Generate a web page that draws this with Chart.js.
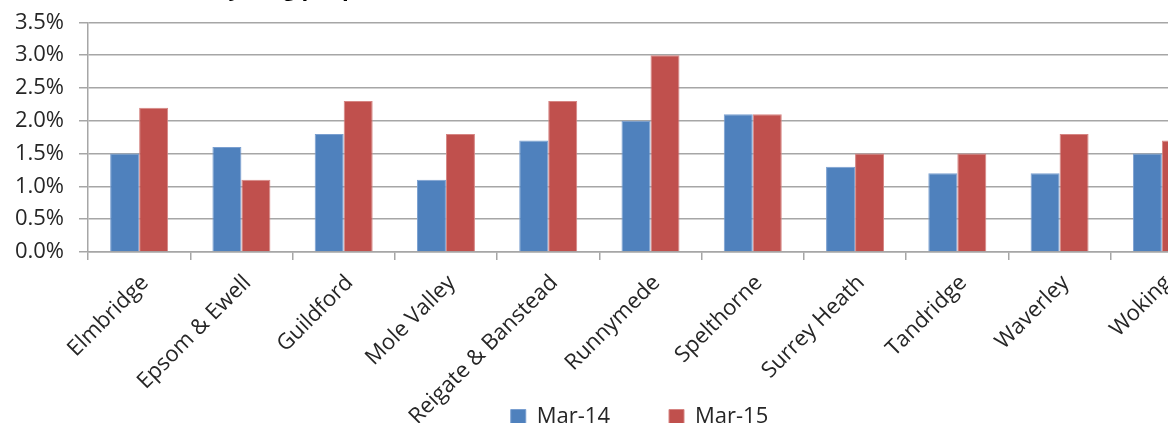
<!DOCTYPE html>
<html>
<head>
<meta charset="utf-8">
<script src="https://cdn.jsdelivr.net/npm/chart.js@4.4.0/dist/chart.umd.min.js"></script>
<style>
    html, body { margin: 0; padding: 0; overflow: hidden; background: #fff; width: 1168px; height: 423px; }
    #wrap { position: absolute; left: 0; top: -23px; width: 1274px; height: 546px; }
</style>
</head>
<body>
<div id="wrap"><canvas id="myChart"></canvas></div>
<script>
// du lieu
const districts = ['Elmbridge', 'Epsom & Ewell', 'Guildford', 'Mole Valley', 'Reigate & Banstead',
    'Runnymede', 'Spelthorne', 'Surrey Heath', 'Tandridge', 'Waverley', 'Woking']
const mar14 = [1.5, 1.6, 1.8, 1.1, 1.7, 2.0, 2.1, 1.3, 1.2, 1.2, 1.5]
const mar15 = [2.2, 1.1, 2.3, 1.8, 2.3, 3.0, 2.1, 1.5, 1.5, 1.8, 1.7]
const seriesNames = ['Mar-14', 'Mar-15']
const yMin = 0
const yMax = 3.5
const yStep = 0.5

const font = 'Open Sans'
const textColor = '#262626'
const gridColor = '#a6a6a6'

// legend sits up beside the long rotated labels, like the excel one
const moveLegend = {
    id: 'moveLegend',
    afterLayout(chart) {
        const lg = chart.legend
        lg.top -= 85
        lg.bottom -= 85
        lg.left += 33
        lg.right += 33
    }
}

const showChart = () => {
    const ctx = document.getElementById('myChart').getContext('2d')
    new Chart(ctx, {
        type: 'bar',
        data: {
            labels: districts,
            datasets: [{
                label: seriesNames[0],
                data: mar14,
                backgroundColor: '#4f81bd',
                borderColor: '#7a9fd0',
                borderWidth: 1,
                categoryPercentage: 0.567,
                barPercentage: 1.0
            }, {
                label: seriesNames[1],
                data: mar15,
                backgroundColor: '#c0504d',
                borderColor: '#d68583',
                borderWidth: 1,
                categoryPercentage: 0.567,
                barPercentage: 1.0
            }]
        },
        plugins: [moveLegend],
        options: {
            responsive: true,
            maintainAspectRatio: false,
            animation: false,
            layout: { padding: { left: 0, right: 61, top: 0, bottom: 0 } },
            plugins: {
                tooltip: { enabled: false },
                title: {
                    display: true,
                    text: 'NEET rate of young people',
                    align: 'start',
                    fullSize: false,
                    color: '#000',
                    font: { family: font, size: 22, weight: 'bold', lineHeight: 1.2 },
                    padding: { top: 0, bottom: 19 }
                },
                legend: {
                    position: 'bottom',
                    labels: {
                        color: textColor,
                        font: { family: font, size: 22 },
                        boxWidth: 15,
                        boxHeight: 15,
                        padding: 59
                    }
                }
            },
            scales: {
                x: {
                    grid: { display: true, drawOnChartArea: false, drawTicks: true, tickLength: 8, color: gridColor, lineWidth: 1.5, offset: true },
                    border: { color: gridColor, width: 1.5 },
                    ticks: {
                        color: textColor,
                        font: { family: font, size: 22 },
                        autoSkip: false,
                        minRotation: 45,
                        maxRotation: 45,
                        padding: 10,
                        labelOffset: 6
                    },
                    afterFit: (scale) => { scale.height = 180 }
                },
                y: {
                    min: yMin,
                    max: yMax,
                    grid: { color: gridColor, lineWidth: 1.5, tickLength: 9 },
                    border: { color: gridColor, width: 1.5 },
                    ticks: {
                        stepSize: yStep,
                        color: textColor,
                        font: { family: font, size: 22 },
                        padding: 15,
                        callback: (v) => v.toFixed(1) + '%'
                    },
                    afterFit: (scale) => { scale.width = 88 }
                }
            }
        }
    })
}

showChart()
</script>
</body>
</html>
